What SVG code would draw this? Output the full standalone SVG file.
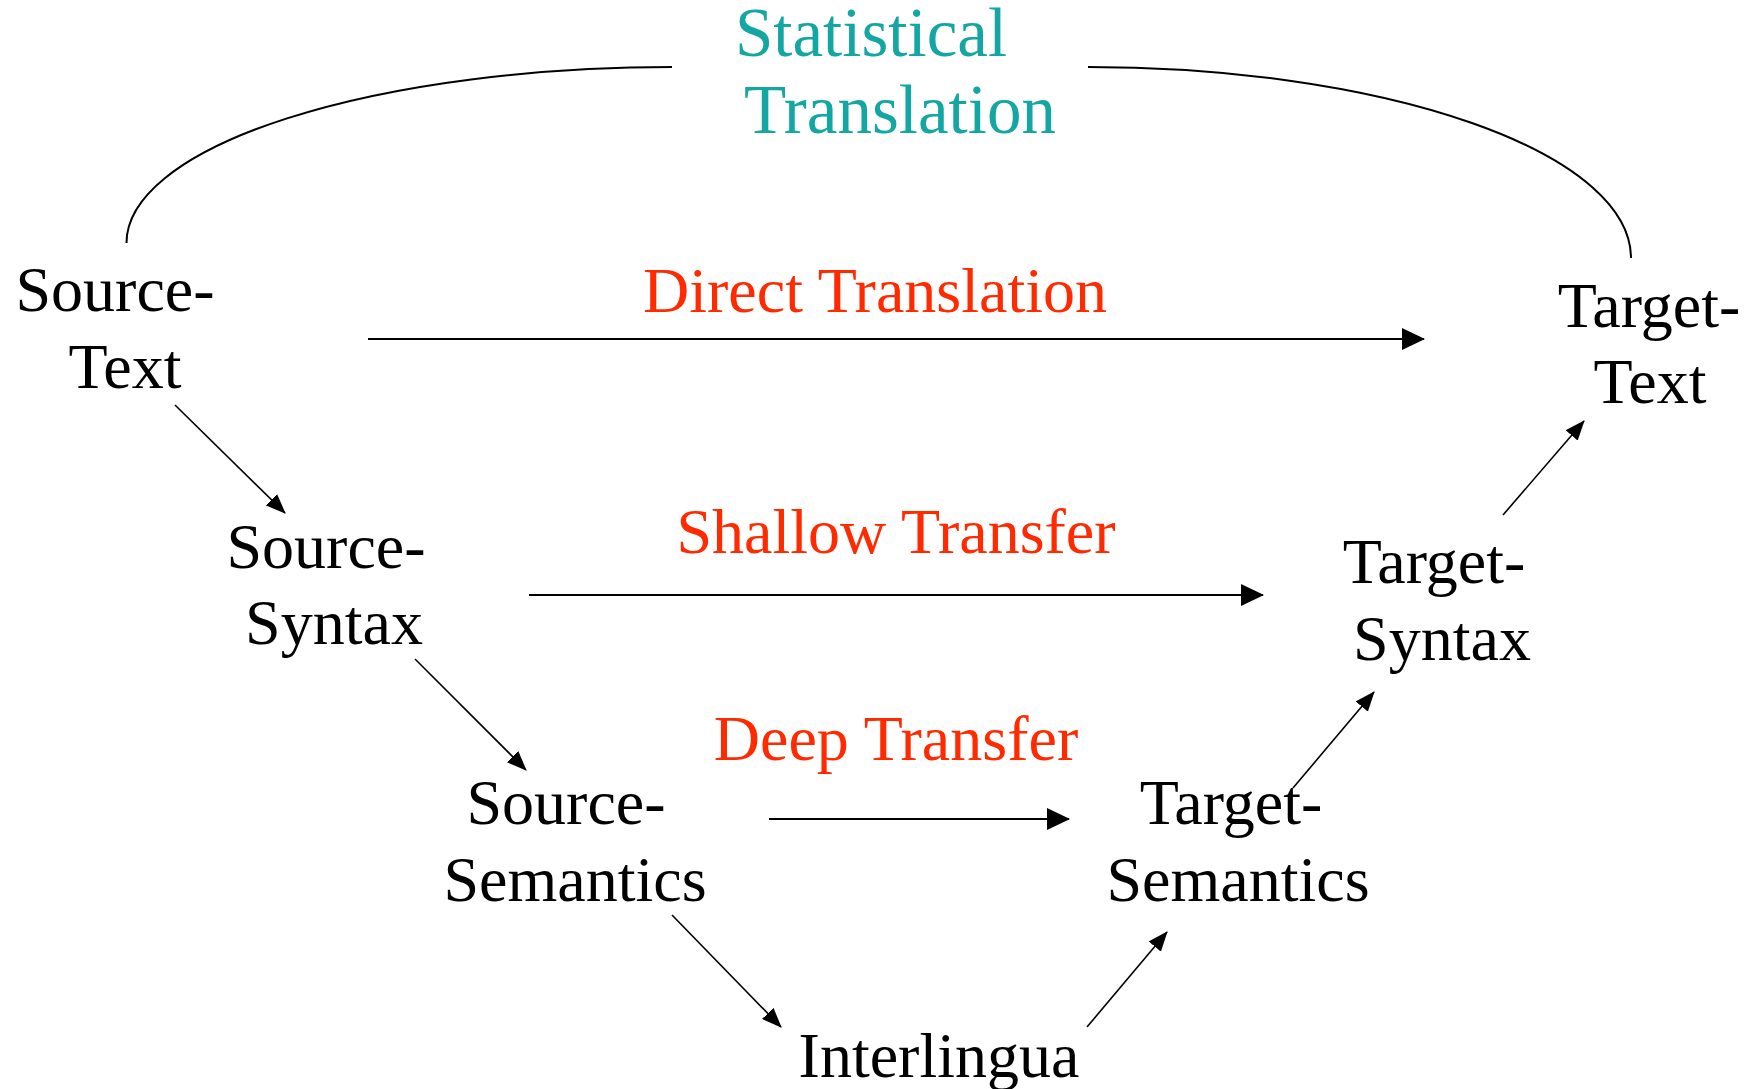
<svg xmlns="http://www.w3.org/2000/svg" width="1755" height="1089" viewBox="0 0 1755 1089">
  <style>
    .lbl { font-family: "Liberation Serif", "Times New Roman", serif; font-size: 64px; fill: #000; text-anchor: middle; }
    .red { fill: #FF2A00; }
    .teal { fill: #13A6A3; font-size: 69px; }
    .edge { fill: none; stroke: #000; }
    .h { stroke-width: 2.2; marker-end: url(#headBig); }
    .d { stroke-width: 1.6; marker-end: url(#headSmall); }
    .arc { fill: none; stroke: #000; stroke-width: 2; }
  </style>
  <defs>
    <marker id="headBig" markerUnits="userSpaceOnUse" viewBox="0 0 23 22" refX="22" refY="11" markerWidth="23" markerHeight="22" orient="auto">
      <path d="M0,0 L23,11 L0,22 z" fill="#000"/>
    </marker>
    <marker id="headSmall" markerUnits="userSpaceOnUse" viewBox="0 0 20 16" refX="19" refY="8" markerWidth="20" markerHeight="16" orient="auto">
      <path d="M0,0 L20,8 L0,16 z" fill="#000"/>
    </marker>
  </defs>

  <rect width="1755" height="1089" fill="#fff"/>

  <!-- connectors -->
  <g id="connectors">
    <!-- statistical route: arc over the top -->
    <path class="arc" d="M126.5,243 A546,176 0 0 1 672,67"/>
    <path class="arc" d="M1088,67 A543,191 0 0 1 1631,258"/>
    <!-- transfer levels -->
    <line class="edge h" x1="368" y1="339" x2="1424" y2="339"/>
    <line class="edge h" x1="529" y1="595" x2="1263" y2="595"/>
    <line class="edge h" x1="769" y1="819" x2="1069" y2="819"/>
    <!-- analysis side -->
    <line class="edge d" x1="175" y1="405" x2="285" y2="513"/>
    <line class="edge d" x1="415" y1="659" x2="526" y2="770"/>
    <line class="edge d" x1="672" y1="915" x2="781" y2="1027"/>
    <!-- generation side -->
    <line class="edge d" x1="1087" y1="1027" x2="1167" y2="932"/>
    <line class="edge d" x1="1293" y1="788" x2="1374" y2="692"/>
    <line class="edge d" x1="1503" y1="515" x2="1584" y2="421"/>
  </g>

  <!-- edge labels -->
  <g id="label-statistical">
    <text class="lbl teal" x="871" y="56">Statistical</text>
    <text class="lbl teal" x="900" y="133">Translation</text>
  </g>
  <g id="label-direct">
    <text class="lbl red" x="875" y="312">Direct Translation</text>
  </g>
  <g id="label-shallow">
    <text class="lbl red" x="896" y="553">Shallow Transfer</text>
  </g>
  <g id="label-deep">
    <text class="lbl red" x="896" y="760">Deep Transfer</text>
  </g>

  <!-- nodes -->
  <g id="source-text">
    <text class="lbl" x="115" y="311">Source-</text>
    <text class="lbl" x="125" y="388">Text</text>
  </g>
  <g id="target-text">
    <text class="lbl" x="1649" y="327">Target-</text>
    <text class="lbl" x="1650" y="403">Text</text>
  </g>
  <g id="source-syntax">
    <text class="lbl" x="326" y="568">Source-</text>
    <text class="lbl" x="334" y="644">Syntax</text>
  </g>
  <g id="target-syntax">
    <text class="lbl" x="1434" y="583">Target-</text>
    <text class="lbl" x="1442" y="660">Syntax</text>
  </g>
  <g id="source-semantics">
    <text class="lbl" x="566" y="824">Source-</text>
    <text class="lbl" x="575" y="901">Semantics</text>
  </g>
  <g id="target-semantics">
    <text class="lbl" x="1231" y="824">Target-</text>
    <text class="lbl" x="1238" y="901">Semantics</text>
  </g>
  <g id="interlingua">
    <text class="lbl" x="939" y="1077">Interlingua</text>
  </g>
</svg>
